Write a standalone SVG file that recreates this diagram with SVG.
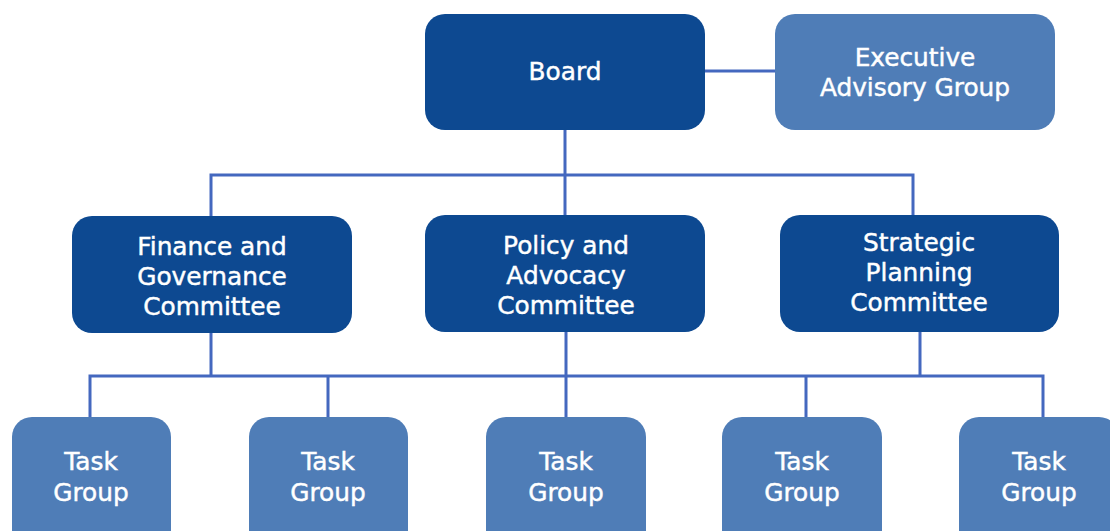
<svg xmlns="http://www.w3.org/2000/svg" width="1110" height="531" viewBox="0 0 1110 531">
<style>
.dark{fill:#0d4991}
.light{fill:#4f7db7}
.t{font-family:"DejaVu Sans",Verdana,sans-serif;font-size:24.8px;fill:#ffffff;stroke:#ffffff;stroke-width:0.45;text-anchor:middle}
.c{stroke:#4468bf;stroke-width:3;fill:none}
</style>
<rect width="1110" height="531" fill="#ffffff"/>
<g id="connectors">
<path class="c" d="M705 71H775"/>
<path class="c" d="M565 130V216M211 216V175H913V216"/>
<path class="c" d="M211 333V376M566 332V417M920 332V376M90 417V376H1043V417M328 376V417M806 376V417"/>
</g>
<g id="board"><rect class="dark" x="425" y="14" width="280" height="116" rx="20"/><text class="t" x="565" y="80">Board</text></g>
<g id="exec"><rect class="light" x="775" y="14" width="280" height="116" rx="20"/><text class="t" x="915" y="66">Executive</text><text class="t" x="915" y="96">Advisory Group</text></g>
<g id="finance"><rect class="dark" x="72" y="216" width="280" height="117" rx="20"/><text class="t" x="212" y="255">Finance and</text><text class="t" x="212" y="285">Governance</text><text class="t" x="212" y="315">Committee</text></g>
<g id="policy"><rect class="dark" x="425" y="215" width="280" height="117" rx="20"/><text class="t" x="566" y="254">Policy and</text><text class="t" x="566" y="284">Advocacy</text><text class="t" x="566" y="314">Committee</text></g>
<g id="strategic"><rect class="dark" x="780" y="215" width="279" height="117" rx="20"/><text class="t" x="919" y="251">Strategic</text><text class="t" x="919" y="281">Planning</text><text class="t" x="919" y="311">Committee</text></g>
<g id="task1"><rect class="light" x="12" y="417" width="159" height="140" rx="20"/><text class="t" x="91" y="470">Task</text><text class="t" x="91" y="501">Group</text></g>
<g id="task2"><rect class="light" x="249" y="417" width="159" height="140" rx="20"/><text class="t" x="328" y="470">Task</text><text class="t" x="328" y="501">Group</text></g>
<g id="task3"><rect class="light" x="486" y="417" width="160" height="140" rx="20"/><text class="t" x="566" y="470">Task</text><text class="t" x="566" y="501">Group</text></g>
<g id="task4"><rect class="light" x="722" y="417" width="160" height="140" rx="20"/><text class="t" x="802" y="470">Task</text><text class="t" x="802" y="501">Group</text></g>
<g id="task5"><rect class="light" x="959" y="417" width="160" height="140" rx="20"/><text class="t" x="1039" y="470">Task</text><text class="t" x="1039" y="501">Group</text></g>
</svg>
